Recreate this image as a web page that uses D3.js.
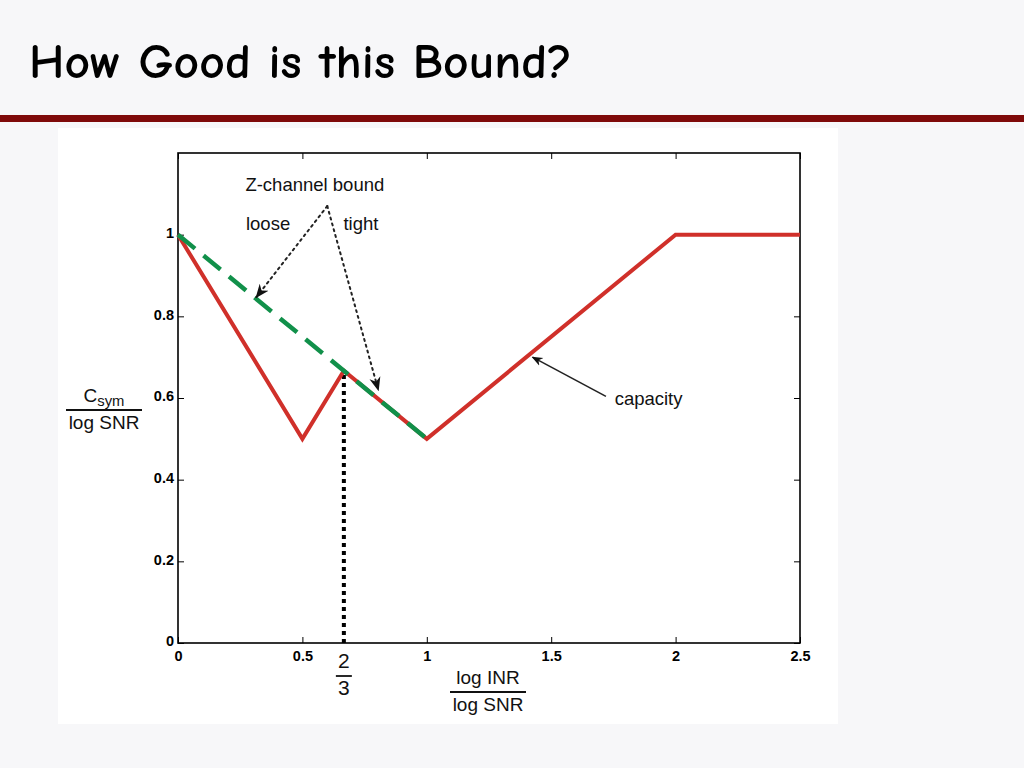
<!DOCTYPE html>
<html><head><meta charset="utf-8">
<script src="https://cdn.jsdelivr.net/npm/d3@7"></script>
<style>
html,body{margin:0;padding:0;background:#f7f7f9;}
svg{display:block;}
</style></head>
<body>
<svg id="c" width="1024" height="768"></svg>
<script>
// Data
const capacityX = [0, 0.5, 2/3, 1, 2, 2.5];
const capacityY = [1, 0.5, 2/3, 0.5, 1, 1];
const boundX = [0, 1];
const boundY = [1, 0.5];
const xTicks = [0, 0.5, 1, 1.5, 2, 2.5];
const xTickLabels = ["0", "0.5", "1", "1.5", "2", "2.5"];
const yTicks = [0, 0.2, 0.4, 0.6, 0.8, 1];
const yTickLabels = ["0", "0.2", "0.4", "0.6", "0.8", "1"];
const markX = 2/3;

const svg = d3.select("#c");
// header
svg.append("rect").attr("x",0).attr("y",0).attr("width",1024).attr("height",768).attr("fill","#f7f7f9");
svg.append("text").attr("x",29).attr("y",78)
  .attr("font-family","'Comic Sans MS','Comic Neue','Chalkboard',Lato,'DejaVu Sans',sans-serif")
  .attr("font-weight","bold").attr("font-size",49).attr("fill","#000")
  .attr("textLength",543).attr("lengthAdjust","spacingAndGlyphs")
  .text("How Good is this Bound?");
svg.append("rect").attr("x",0).attr("y",115).attr("width",1024).attr("height",7).attr("fill","#7f0a0a");
// panel
svg.append("rect").attr("x",58).attr("y",128).attr("width",780).attr("height",596).attr("fill","#fff");

const L=178,R=800,T=153,B=643;
const x = d3.scaleLinear().domain([0,2.5]).range([L,R]);
const y = d3.scaleLinear().domain([0,1.2]).range([B,T]);

const g = svg.append("g");
// frame
g.append("rect").attr("x",L).attr("y",T).attr("width",R-L).attr("height",B-T)
  .attr("fill","none").attr("stroke","#000").attr("stroke-width",1.6);

const tickFont = "Arial, 'Liberation Sans', sans-serif";
// axes with inward ticks
const xb = g.append("g").attr("transform",`translate(0,${B})`)
  .call(d3.axisBottom(x).tickValues(xTicks).tickSizeInner(-6).tickSizeOuter(0).tickFormat((d,i)=>xTickLabels[i]));
const xt = g.append("g").attr("transform",`translate(0,${T})`)
  .call(d3.axisTop(x).tickValues(xTicks).tickSizeInner(-6).tickSizeOuter(0).tickFormat(""));
const yl = g.append("g").attr("transform",`translate(${L},0)`)
  .call(d3.axisLeft(y).tickValues(yTicks).tickSizeInner(-6).tickSizeOuter(0).tickFormat((d,i)=>yTickLabels[i]));
const yr = g.append("g").attr("transform",`translate(${R},0)`)
  .call(d3.axisRight(y).tickValues(yTicks).tickSizeInner(-6).tickSizeOuter(0).tickFormat(""));
[xb,xt,yl,yr].forEach(a=>{a.attr("font-size",null).select(".domain").remove(); a.selectAll("line").attr("stroke","#000").attr("stroke-width",1);});
xb.selectAll("text").style("font-family",tickFont).style("font-weight","bold").style("font-size","14.5px").attr("fill","#000").attr("y",5).attr("dy","0.9em");
yl.selectAll("text").style("font-family",tickFont).style("font-weight","bold").style("font-size","14.5px").attr("fill","#000").attr("x",-4).attr("dy","0.2em");

// dotted vertical marker
g.append("line").attr("x1",x(markX)).attr("x2",x(markX)).attr("y1",y(0)).attr("y2",y(markX))
  .attr("stroke","#000").attr("stroke-width",4).attr("stroke-dasharray","4,4");

// capacity line
const line = d3.line().x(d=>x(d[0])).y(d=>y(d[1]));
g.append("path").datum(capacityX.map((v,i)=>[v,capacityY[i]])).attr("d",line)
  .attr("fill","none").attr("stroke","#d0302a").attr("stroke-width",4).attr("stroke-linejoin","miter");
// bound
g.append("path").datum(boundX.map((v,i)=>[v,boundY[i]])).attr("d",line)
  .attr("fill","none").attr("stroke","#11904a").attr("stroke-width",4.5).attr("stroke-dasharray","22,11");

// arrowheads
const defs = svg.append("defs");
defs.append("marker").attr("id","ah").attr("viewBox","0 0 10 10").attr("refX",9).attr("refY",5)
  .attr("markerWidth",7).attr("markerHeight",7).attr("orient","auto")
  .append("path").attr("d","M0,1 L10,5 L0,9 L3,5 Z").attr("fill","#111");

const annFont = "Arial, 'Liberation Sans', sans-serif";
const annSize = 18.5;
// Z-channel annotation
const origin = [x(0.6), y(1.07)];
g.append("line").attr("x1",origin[0]).attr("y1",origin[1]).attr("x2",x(0.315)).attr("y2",y(0.847))
  .attr("stroke","#222").attr("stroke-width",2).attr("stroke-dasharray","2,4").attr("stroke-linecap","round").attr("marker-end","url(#ah)");
g.append("line").attr("x1",origin[0]).attr("y1",origin[1]).attr("x2",x(0.805)).attr("y2",y(0.62))
  .attr("stroke","#222").attr("stroke-width",2).attr("stroke-dasharray","2,4").attr("stroke-linecap","round").attr("marker-end","url(#ah)");
g.append("text").attr("x",x(0.55)).attr("y",y(1.108)).attr("text-anchor","middle")
  .attr("font-family",annFont).attr("font-size",annSize).attr("fill","#111").text("Z-channel bound");
g.append("text").attr("x",x(0.362)).attr("y",y(1.012)).attr("text-anchor","middle")
  .attr("font-family",annFont).attr("font-size",annSize).attr("fill","#111").text("loose");
g.append("text").attr("x",x(0.735)).attr("y",y(1.012)).attr("text-anchor","middle")
  .attr("font-family",annFont).attr("font-size",annSize).attr("fill","#111").text("tight");
// capacity annotation
g.append("line").attr("x1",x(1.72)).attr("y1",y(0.604)).attr("x2",x(1.425)).attr("y2",y(0.7))
  .attr("stroke","#222").attr("stroke-width",1.6).attr("marker-end","url(#ah)");
g.append("text").attr("x",x(1.755)).attr("y",y(0.583))
  .attr("font-family",annFont).attr("font-size",annSize).attr("fill","#111").text("capacity");

// fraction labels
function frac(cx, ytop, num, den, size, lineW, sub){
  const t = svg.append("text").attr("x",cx).attr("y",ytop).attr("text-anchor","middle")
    .attr("font-family",annFont).attr("font-size",size).attr("fill","#111");
  if(sub){
    t.append("tspan").text(num);
    t.append("tspan").attr("font-size",size*0.78).attr("dy",4).text(sub);
  } else t.text(num);
  svg.append("line").attr("x1",cx-lineW/2).attr("x2",cx+lineW/2).attr("y1",ytop+8).attr("y2",ytop+8)
    .attr("stroke","#111").attr("stroke-width",1.8);
  svg.append("text").attr("x",cx).attr("y",ytop+27).attr("text-anchor","middle")
    .attr("font-family",annFont).attr("font-size",size).attr("fill","#111").text(den);
}
frac(x(markX), 668, "2", "3", 21, 16);
frac(488, 684, "log INR", "log SNR", 19, 76);
frac(104, 402, "C", "log SNR", 19, 76, "sym");
</script>
</body></html>
